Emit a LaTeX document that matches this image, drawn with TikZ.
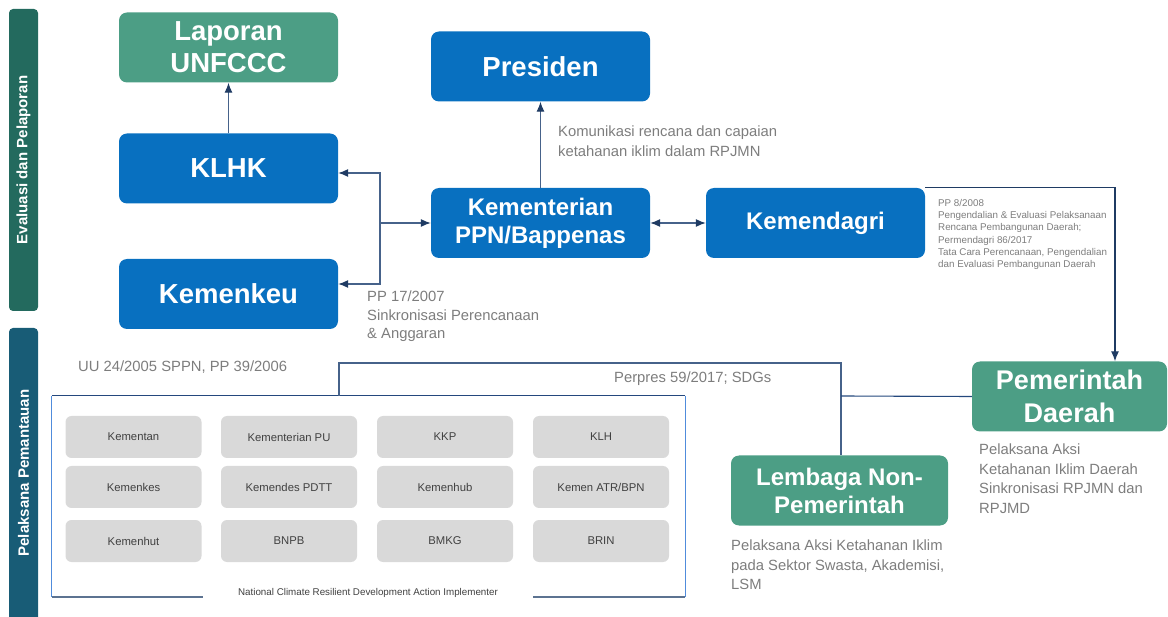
\documentclass[tikz,border=0pt]{standalone}
\usepackage{fontspec}
\setmainfont{Liberation Sans}
\usepackage{tikz}
\usetikzlibrary{arrows,arrows.meta,positioning}
\definecolor{boxblue}{RGB}{8,112,192}
\definecolor{boxgreen}{RGB}{76,158,133}
\definecolor{barteal}{RGB}{35,106,94}
\definecolor{barblue}{RGB}{24,92,118}
\definecolor{navy}{RGB}{31,59,99}
\definecolor{linkcol}{RGB}{70,98,138}
\definecolor{frametop}{RGB}{36,72,125}
\definecolor{frameside}{RGB}{80,140,220}
\definecolor{framebot}{RGB}{92,115,145}
\definecolor{boxgrey}{RGB}{217,217,217}
\definecolor{notegrey}{RGB}{125,125,125}
\definecolor{cellgrey}{RGB}{64,64,64}

\tikzset{
  bluebox/.style={rectangle, rounded corners=8pt, fill=boxblue, text=white, align=center,
    inner sep=0pt, minimum width=219pt, minimum height=70pt,
    font=\bfseries\fontsize{27.5}{30}\selectfont},
  greenbox/.style={bluebox, fill=boxgreen},
  cell/.style={rectangle, rounded corners=6pt, fill=boxgrey, text=cellgrey, inner sep=0pt,
    minimum width=136pt, minimum height=42pt, font=\fontsize{11.3}{13}\selectfont},
  bartext/.style={rotate=90, text=white, font=\bfseries\fontsize{15}{17}\selectfont},
  note/.style={anchor=north west, inner sep=0pt, align=left, text=notegrey,
    font=\fontsize{14.8}{19.5}\selectfont},
  tip/.tip={Latex[length=10pt,width=8pt,color=navy]},
  arrow/.style={draw=linkcol, line width=1.1pt, -tip},
  link/.style={draw=linkcol, line width=1.1pt}
}

\begin{document}
\begin{tikzpicture}[x=1pt,y=-1pt]
\useasboundingbox (0,0) rectangle (1168,617);
\fill[barteal, rounded corners=4pt] (9,9) rectangle (38,311);
\fill[barblue, rounded corners=4pt] (9,328) rectangle (38,640);
\node[bartext] (evl) at (23.5,160) {Evaluasi dan Pelaporan};
\node[bartext] (plk) at (23.5,473) {Pelaksana Pemantauan};

\node[greenbox, font=\bfseries\fontsize{27.5}{32}\selectfont] (unfccc) at (228.5,47.5) {Laporan\\UNFCCC};
\node[bluebox] (klhk) at (228.5,168.5) {KLHK};
\node[bluebox] (kemenkeu) at (228.5,294) {Kemenkeu};
\node[bluebox] (presiden) at (540.5,66.5) {Presiden};
\node[bluebox, font=\bfseries\fontsize{24}{28}\selectfont] (bappenas) at (540.5,223) {Kementerian\\PPN/Bappenas};
\node[bluebox, font=\bfseries\fontsize{24}{28}\selectfont] (kemendagri) at (815.5,223) {Kemendagri};
\node[greenbox, minimum width=195pt, font=\bfseries\fontsize{27}{33}\selectfont] (pemda) at (1069.5,396.5) {Pemerintah\\Daerah};
\node[greenbox, minimum width=217pt, font=\bfseries\fontsize{24}{28}\selectfont] (lnp) at (839.5,490.5) {Lembaga Non-\\Pemerintah};

\draw[arrow] (klhk) -- (unfccc);
\draw[arrow] (bappenas) -- (presiden);
\draw[arrow, tip-tip] (bappenas) -- (kemendagri);
\coordinate (sp) at (380,223);
\draw[arrow] (sp) -- (bappenas.west);
\draw[arrow] (sp) |- ([yshift=-4.5pt]klhk.east);
\draw[arrow] (sp) |- ([yshift=10pt]kemenkeu.east);
\draw[arrow, draw=navy] (kemendagri.north east) -| ([xshift=45.5pt]pemda.north);

\node[note] (kom) at (558,126) {Komunikasi rencana dan capaian\\ketahanan iklim dalam RPJMN};
\node[note, font=\fontsize{14.8}{18.5}\selectfont] (pp17) at (367,291) {PP 17/2007\\Sinkronisasi Perencanaan\\\& Anggaran};
\node[note, font=\fontsize{9.8}{12.3}\selectfont] (pp8) at (938,199) {PP 8/2008\\Pengendalian \& Evaluasi Pelaksanaan\\Rencana Pembangunan Daerah;\\Permendagri 86/2017\\Tata Cara Perencanaan, Pengendalian\\dan Evaluasi Pembangunan Daerah};
\node[note] (uu) at (78,361) {UU 24/2005 SPPN, PP 39/2006};
\node[note] (perpres) at (614,372) {Perpres 59/2017; SDGs};
\node[note] (pemdanote) at (979,444) {Pelaksana Aksi\\Ketahanan Iklim Daerah\\Sinkronisasi RPJMN dan\\RPJMD};
\node[note] (lnpnote) at (731,540) {Pelaksana Aksi Ketahanan Iklim\\pada Sektor Swasta, Akademisi,\\LSM};

\node[inner sep=0pt, minimum width=633pt, minimum height=201pt] (frame) at (368.5,496.5) {};
\draw[frametop, line width=1.1pt] (frame.north west) -- (frame.north east);
\draw[frameside, line width=1pt] (frame.north west) -- (frame.south west);
\draw[frameside, line width=1pt] (frame.north east) -- (frame.south east);
\draw[framebot, line width=1.5pt] (frame.south west) -- (frame.south east);
\node[fill=white, minimum width=330pt, inner sep=2pt, text=cellgrey, font=\fontsize{9.8}{11}\selectfont] (impl) at (368,593) {National Climate Resilient Development Action Implementer};

\node[cell] (kementan) at (133.5,437) {Kementan};
\node[cell] (kempu) at (289,437) {Kementerian PU};
\node[cell] (kkp) at (445,437) {KKP};
\node[cell] (klh) at (601,437) {KLH};
\node[cell] (kemenkes) at (133.5,487) {Kemenkes};
\node[cell] (kemendes) at (289,487) {Kemendes PDTT};
\node[cell] (kemenhub) at (445,487) {Kemenhub};
\node[cell] (atrbpn) at (601,487) {Kemen ATR/BPN};
\node[cell] (kemenhut) at (133.5,541) {Kemenhut};
\node[cell] (bnpb) at (289,541) {BNPB};
\node[cell] (bmkg) at (445,541) {BMKG};
\node[cell] (brin) at (601,541) {BRIN};

\coordinate (fj) at (339,363);
\coordinate (lj) at (841,363);
\coordinate (pj) at (841,396);
\draw[link] (frame.north -| fj) -- (fj) -- (lj) -- (lnp.north -| lj);
\draw[link, draw=frametop] (pj) -- (pemda.west);
\end{tikzpicture}
\end{document}
